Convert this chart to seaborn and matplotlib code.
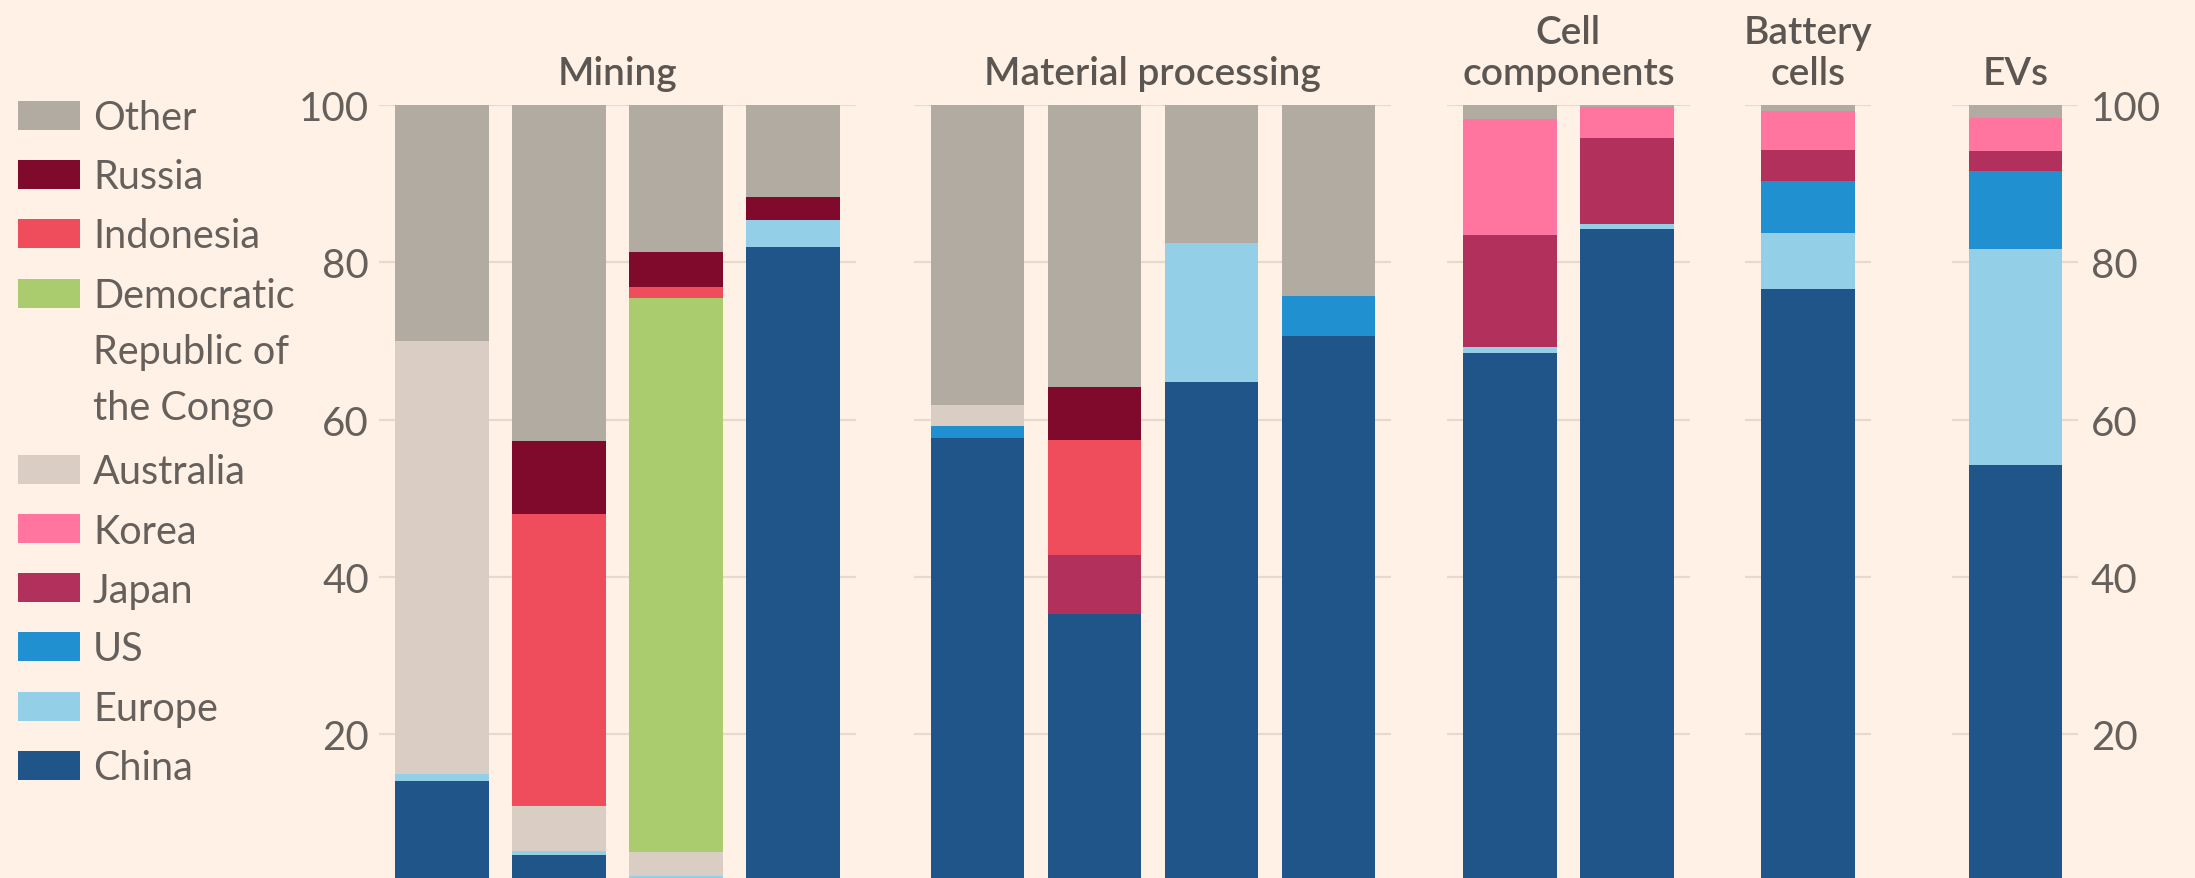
import numpy as np
import pandas as pd
import matplotlib
matplotlib.use("Agg")
import matplotlib.pyplot as plt
import seaborn as sns
from matplotlib.patches import Rectangle

# ---------------- data ----------------
stages = ["Mining", "Material processing", "Cell\ncomponents", "Battery\ncells", "EVs"]
bar_ids = ["Mining 1", "Mining 2", "Mining 3", "Mining 4",
           "Processing 1", "Processing 2", "Processing 3", "Processing 4",
           "Components 1", "Components 2", "Battery cells", "EVs"]
bar_stage = [0, 0, 0, 0, 1, 1, 1, 1, 2, 2, 3, 4]

# stacking order bottom -> top
countries = ["China", "Europe", "US", "Japan", "Korea", "Australia",
             "Democratic\nRepublic of\nthe Congo", "Indonesia", "Russia", "Other"]
china     = [14.0, 4.6, 1.2, 82.0, 57.7, 35.3, 64.8, 70.6, 68.5, 84.2, 76.6, 54.2]
europe    = [0.9, 0.6, 0.8, 3.4, 0.0, 0.0, 17.7, 0.0, 0.7, 0.7, 7.1, 27.5]
us        = [0.0, 0.0, 0.0, 0.0, 1.5, 0.0, 0.0, 5.1, 0.0, 0.0, 6.6, 9.9]
japan     = [0.0, 0.0, 0.0, 0.0, 0.0, 7.5, 0.0, 0.0, 14.3, 10.9, 4.0, 2.6]
korea     = [0.0, 0.0, 0.0, 0.0, 0.0, 0.0, 0.0, 0.0, 14.7, 4.0, 5.0, 4.2]
australia = [55.1, 5.7, 3.0, 0.0, 2.7, 0.0, 0.0, 0.0, 0.0, 0.0, 0.0, 0.0]
drc       = [0.0, 0.0, 70.5, 0.0, 0.0, 0.0, 0.0, 0.0, 0.0, 0.0, 0.0, 0.0]
indonesia = [0.0, 37.1, 1.3, 0.0, 0.0, 14.6, 0.0, 0.0, 0.0, 0.0, 0.0, 0.0]
russia    = [0.0, 9.3, 4.5, 2.9, 0.0, 6.7, 0.0, 0.0, 0.0, 0.0, 0.0, 0.0]
other     = [30.0, 42.7, 18.7, 11.7, 38.1, 35.9, 17.5, 24.3, 1.8, 0.2, 0.7, 1.6]
series = [china, europe, us, japan, korea, australia, drc, indonesia, russia, other]

colors = ["#20558a", "#93d0e7", "#2090d0", "#b2315c", "#ff75a0", "#dacdc4",
          "#abcb6f", "#ef4d5b", "#800a2c", "#b2aba1"]

yticks = [0, 20, 40, 60, 80, 100]
ytick_labels = ["0", "20", "40", "60", "80", "100"]

# ---------------- tidy table ----------------
rows = []
for ci, (cname, vals) in enumerate(zip(countries, series)):
    for bi, v in enumerate(vals):
        rows.append(dict(bar=bar_ids[bi], stage=bar_stage[bi], country=cname,
                         order=ci, value=v))
df = pd.DataFrame(rows)
df = df.sort_values(["bar", "order"])
df["top"] = df.groupby("bar")["value"].cumsum()

# ---------------- styling ----------------
BG = "#fff1e5"
GRID = "#e6d9cd"
TXT = "#66605c"
TTL = "#5c5652"
sns.set_style("white")
plt.rcParams["font.family"] = ["Lato", "DejaVu Sans"]

W, H = 2195, 879
fig = plt.figure(figsize=(W / 100, H / 100), dpi=100, facecolor=BG)

def fx(px):
    return px / W

def fy(py):
    return (H - py) / H

Y0, Y100 = 892.5, 106.0
UNIT = 117.0
first_centers = [442.0, 977.3, 1509.9, 1808.3, 2015.3]

for si, title in enumerate(stages):
    bars = [b for b, s in zip(bar_ids, bar_stage) if s == si]
    n = len(bars)
    left = first_centers[si] - 0.54 * UNIT
    width = (n - 1 + 1.08) * UNIT
    ax = fig.add_axes([fx(left), fy(Y0), width / W, (Y0 - Y100) / H])
    ax.set_facecolor("none")
    sub = df[df["bar"].isin(bars)]
    # paint cumulative tops from the top layer down so lower layers overlay
    for ci in range(len(countries) - 1, -1, -1):
        layer = sub[(sub["order"] == ci) & (sub["value"] > 0)]
        if layer.empty:
            continue
        sns.barplot(data=layer, x="bar", y="top", order=bars, color=colors[ci],
                    saturation=1, width=0.8, linewidth=0, errorbar=None, ax=ax)
    ax.set_xlim(-0.54, n - 1 + 0.54)
    ax.set_ylim(0, 100)
    ax.set_xlabel("")
    ax.set_ylabel("")
    ax.set_xticks([])
    ax.set_yticks(yticks)
    ax.set_axisbelow(True)
    ax.yaxis.grid(True, color=GRID, linewidth=1.6)
    for sp in ax.spines.values():
        sp.set_visible(False)
    ax.tick_params(axis="y", length=0, labelsize=29, labelcolor=TXT)
    if si == 0:
        ax.set_yticklabels(ytick_labels)
        ax.tick_params(axis="y", pad=7)
    elif si == len(stages) - 1:
        ax.yaxis.tick_right()
        ax.set_yticklabels(ytick_labels)
        ax.tick_params(axis="y", pad=9, length=0)
    else:
        ax.set_yticklabels([])
    ax.set_title(title, fontsize=28, color=TTL, fontweight="semibold",
                 va="bottom", pad=10, linespacing=1.17)

# ---------------- legend (manual, top to bottom) ----------------
leg_rows = [116.5, 175.5, 234.5, 294.5, 470.5, 529.5, 588.5, 647.5, 707.0, 766.0]
leg_order = list(range(len(countries) - 1, -1, -1))
for row_y, ci in zip(leg_rows, leg_order):
    fig.add_artist(Rectangle((fx(18), fy(row_y + 14.5)), 62 / W, 29 / H,
                             transform=fig.transFigure, facecolor=colors[ci],
                             edgecolor="none"))
    lines = countries[ci].split("\n")
    for li, line in enumerate(lines):
        fig.text(fx(93), fy(row_y + 14 + li * 56), line, fontsize=28.5,
                 color=TXT, va="baseline", ha="left")

fig.savefig("out.png", dpi=100, facecolor=BG)
